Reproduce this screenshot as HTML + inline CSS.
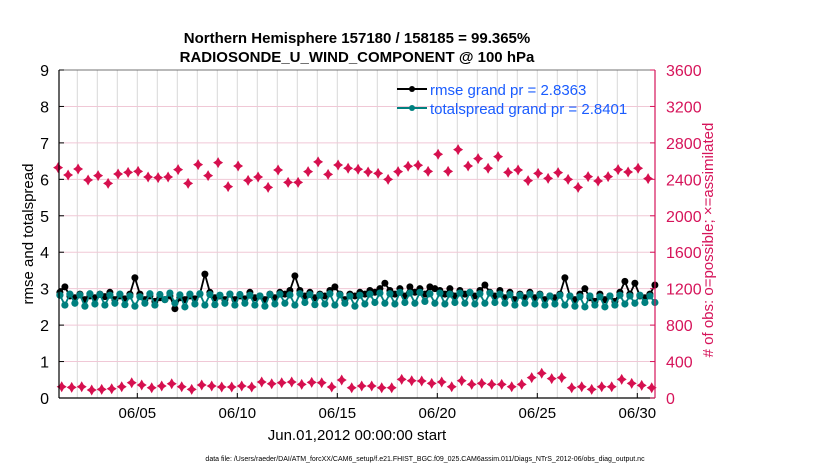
<!DOCTYPE html>
<html><head><meta charset="utf-8"><style>
body{margin:0;background:#fff}
svg{display:block;font-family:"Liberation Sans",Arial,sans-serif}
</style></head><body>
<svg id="chart" width="830" height="470" viewBox="0 0 830 470">
<text x="357" y="43" text-anchor="middle" font-size="15" font-weight="bold">Northern Hemisphere 157180 / 158185 = 99.365%</text>
<text x="357" y="62" text-anchor="middle" font-size="15" font-weight="bold">RADIOSONDE_U_WIND_COMPONENT @ 100 hPa</text>
<g id="grid"></g>
<g id="marks"></g>
<g id="axes"></g>
<text transform="translate(33,234) rotate(-90)" text-anchor="middle" font-size="15">rmse and totalspread</text>
<text transform="translate(713,240) rotate(-90)" text-anchor="middle" font-size="15" fill="#d6145a"># of obs: o=possible; ×=assimilated</text>
<text x="357" y="440" text-anchor="middle" font-size="15">Jun.01,2012 00:00:00 start</text>
<text x="425" y="461" text-anchor="middle" font-size="7">data file: /Users/raeder/DAI/ATM_forcXX/CAM6_setup/f.e21.FHIST_BGC.f09_025.CAM6assim.011/Diags_NTrS_2012-06/obs_diag_output.nc</text>
<g>
<line x1="397" y1="89" x2="427" y2="89" stroke="#000" stroke-width="2"/>
<circle cx="412" cy="89" r="3" fill="#000"/>
<text x="430" y="95" font-size="15" fill="#1a5cff">rmse grand pr = 2.8363</text>
<line x1="397" y1="108" x2="427" y2="108" stroke="#00807f" stroke-width="2"/>
<circle cx="412" cy="108" r="3" fill="#00807f"/>
<text x="430" y="114" font-size="15" fill="#1a5cff">totalspread grand pr = 2.8401</text>
</g>
</svg>
<script>
const yTicks=[0,1,2,3,4,5,6,7,8,9];
const y2Ticks=[0,400,800,1200,1600,2000,2400,2800,3200,3600];
const xTickDays=[4,9,14,19,24,29];
const xTickLabels=["06/05","06/10","06/15","06/20","06/25","06/30"];
const totalspread=[2.82,2.55,2.85,2.6,2.83,2.52,2.86,2.58,2.84,2.55,2.82,2.6,2.85,2.56,2.8,2.52,2.78,2.6,2.86,2.55,2.84,2.7,2.88,2.6,2.83,2.5,2.85,2.58,2.86,2.55,2.84,2.56,2.82,2.6,2.85,2.55,2.84,2.6,2.82,2.55,2.8,2.52,2.84,2.58,2.85,2.6,2.83,2.55,2.86,2.62,2.84,2.56,2.82,2.58,2.86,2.55,2.83,2.6,2.8,2.52,2.82,2.58,2.85,2.62,2.88,2.6,2.86,2.58,2.9,2.62,2.88,2.6,2.9,2.65,2.86,2.6,2.88,2.58,2.85,2.62,2.88,2.6,2.9,2.58,2.86,2.6,2.88,2.62,2.85,2.6,2.84,2.55,2.82,2.6,2.85,2.58,2.83,2.55,2.8,2.58,2.82,2.55,2.8,2.52,2.78,2.5,2.8,2.55,2.78,2.5,2.8,2.55,2.82,2.58,2.8,2.6,2.82,2.62,2.8,2.62];
const rmse=[2.9,3.05,2.8,2.75,2.85,2.7,2.8,2.75,2.85,2.78,2.9,2.7,2.8,2.72,2.85,3.3,2.85,2.7,2.8,2.65,2.75,2.7,2.8,2.45,2.75,2.7,2.8,2.72,2.85,3.4,2.9,2.75,2.8,2.7,2.85,2.7,2.8,2.72,2.9,2.75,2.8,2.7,2.85,2.75,2.9,2.85,2.95,3.35,2.95,2.8,2.9,2.75,2.85,2.8,2.95,3.05,2.85,2.7,2.85,2.8,2.9,2.85,2.95,2.9,3.0,3.15,2.95,2.85,3.0,2.8,3.05,2.9,3.0,2.85,3.05,3.0,2.95,2.85,3.0,2.8,2.95,2.85,2.9,2.8,2.95,3.1,2.9,2.8,2.95,2.75,2.9,2.7,2.85,2.75,2.9,2.75,2.85,2.7,2.8,2.75,2.85,3.3,2.8,2.7,2.85,3.0,2.75,2.65,2.85,2.7,2.8,2.65,2.9,3.2,2.85,3.15,2.8,2.75,2.85,3.1];
const nPossible=[2528,2448,2514,2393,2441,2356,2459,2477,2488,2426,2419,2426,2506,2356,2561,2441,2583,2320,2547,2389,2426,2312,2503,2367,2367,2485,2591,2455,2558,2521,2510,2481,2466,2400,2485,2543,2554,2488,2675,2488,2726,2547,2627,2521,2649,2477,2503,2386,2466,2411,2474,2400,2312,2430,2382,2430,2506,2481,2521,2408];
const nAssim=[124,117,124,88,95,102,124,168,143,113,132,157,124,95,143,132,121,121,132,121,175,157,168,175,150,172,168,121,197,113,132,132,113,113,205,190,186,161,175,124,190,150,161,150,150,124,150,223,271,212,223,113,124,95,124,124,205,161,139,113];

const NS="http://www.w3.org/2000/svg";
const L=59,R=655,T=70,B=398;
const xs=d=>57.3+20*d;
const ys=v=>B-(v/9)*(B-T);
const ys2=v=>B-(v/3600)*(B-T);
function mk(tag,attrs,parent){const e=document.createElementNS(NS,tag);for(const k in attrs)e.setAttribute(k,attrs[k]);parent.appendChild(e);return e;}
const grid=document.getElementById('grid'),marks=document.getElementById('marks'),axes=document.getElementById('axes');
for(let d=1;d<30;d++){const g=mk('line',{x1:xs(d),x2:xs(d),y1:T,y2:B,stroke:'#d8d8d8','stroke-width':1},grid);

}
yTicks.forEach(v=>{if(v>0&&v<9){const g=mk('line',{x1:L,x2:R,y1:ys(v),y2:ys(v),stroke:'#f0c8d6','stroke-width':1},grid);

}});
const pts=(arr)=>arr.map((v,i)=>xs(i*0.25+0.13).toFixed(1)+','+ys(v).toFixed(1)).join(' ');
const lr=mk('polyline',{points:pts(rmse),fill:'none',stroke:'#000','stroke-width':1.8},marks);


rmse.forEach((v,i)=>{const c=mk('circle',{cx:xs(i*0.25+0.13),cy:ys(v),r:3.5,fill:'#000'},marks);

});
const lt=mk('polyline',{points:pts(totalspread),fill:'none',stroke:'#00807f','stroke-width':1.8},marks);


totalspread.forEach((v,i)=>{const c=mk('circle',{cx:xs(i*0.25+0.13),cy:ys(v),r:3.6,fill:'#00807f'},marks);

});
function star(x,y,name){const p=mk('path',{d:`M${x},${y-5.5}L${x+2},${y-2}L${x+5},${y}L${x+2},${y+2}L${x},${y+5.5}L${x-2},${y+2}L${x-5},${y}L${x-2},${y-2}Z`,fill:'#d6104f'},marks);

}
nPossible.forEach((v,i)=>star(xs(i*0.5+0.04),ys2(v),'possible-obs-point'));
nAssim.forEach((v,i)=>star(xs(i*0.5+0.22),ys2(v),'assimilated-obs-point'));
mk('line',{x1:L,x2:L,y1:T,y2:B,stroke:'#000','stroke-width':1.2},axes);
mk('line',{x1:L,x2:R,y1:B,y2:B,stroke:'#000','stroke-width':1.2},axes);
mk('line',{x1:L,x2:R,y1:T,y2:T,stroke:'#444','stroke-width':0.8},axes);
mk('line',{x1:R,x2:R,y1:T,y2:B,stroke:'#d6145a','stroke-width':1.2},axes);
yTicks.forEach(v=>{mk('line',{x1:L,x2:L+5,y1:ys(v),y2:ys(v),stroke:'#000'},axes);
const t=mk('text',{x:L-10,y:ys(v)+6,'text-anchor':'end','font-size':16},axes);t.textContent=v;

});
y2Ticks.forEach(v=>{mk('line',{x1:R-5,x2:R,y1:ys2(v),y2:ys2(v),stroke:'#d6145a'},axes);
const t=mk('text',{x:R+11,y:ys2(v)+6,'font-size':16,fill:'#d6145a'},axes);t.textContent=v;

});
xTickDays.forEach((d,i)=>{mk('line',{x1:xs(d),x2:xs(d),y1:B-5,y2:B,stroke:'#000'},axes);
const t=mk('text',{x:xs(d),y:B+20,'text-anchor':'middle','font-size':15},axes);t.textContent=xTickLabels[i];

});
</script>
</body></html>
